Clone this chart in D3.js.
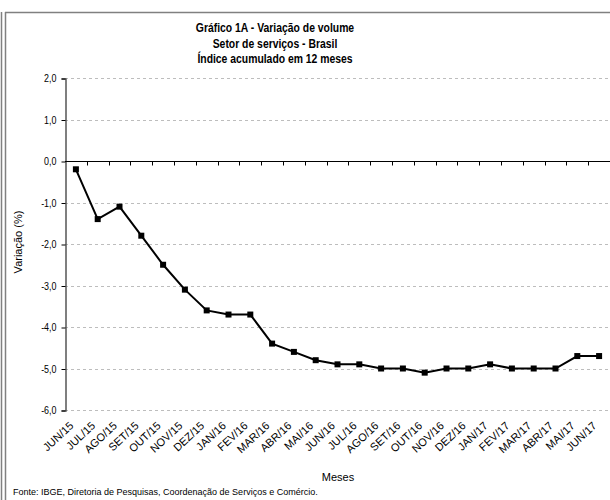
<!DOCTYPE html>
<html>
<head>
<meta charset="utf-8">
<script src="https://cdn.jsdelivr.net/npm/d3@7"></script>
<style>
  body { margin: 0; background: #fff; }
  text { font-family: "Liberation Sans", Arial, sans-serif; fill: #000; }
</style>
</head>
<body>
<div id="chart"></div>
<script>
const months = ["JUN/15","JUL/15","AGO/15","SET/15","OUT/15","NOV/15","DEZ/15","JAN/16","FEV/16",
    "MAR/16","ABR/16","MAI/16","JUN/16","JUL/16","AGO/16","SET/16","OUT/16","NOV/16","DEZ/16",
    "JAN/17","FEV/17","MAR/17","ABR/17","MAI/17","JUN/17"];
const values = [-0.2,-1.4,-1.1,-1.8,-2.5,-3.1,-3.6,-3.7,-3.7,-4.4,-4.6,-4.8,-4.9,-4.9,-5.0,-5.0,
    -5.1,-5.0,-5.0,-4.9,-5.0,-5.0,-5.0,-4.7,-4.7];
const yTicks = [2,1,0,-1,-2,-3,-4,-5,-6];
const titleLines = ["Gráfico 1A - Variação de volume", "Setor de serviços - Brasil", "Índice acumulado em 12 meses"];

// title font in the picture is a narrow one, so squeeze it
const squeeze = 0.77;

const svg = d3.select("#chart")
    .append("svg")
        .attr("width", 610)
        .attr("height", 500);

// frame
svg.append("line").attr("x1", 1.5).attr("x2", 1.5).attr("y1", 12).attr("y2", 500)
    .attr("stroke", "#808080").attr("stroke-width", 1.5);
svg.append("line").attr("x1", 5.5).attr("x2", 5.5).attr("y1", 12).attr("y2", 500)
    .attr("stroke", "#808080").attr("stroke-width", 1.5);
svg.append("line").attr("x1", 5).attr("x2", 610).attr("y1", 12.5).attr("y2", 12.5)
    .attr("stroke", "#808080").attr("stroke-width", 1.5);

const x = d3.scaleBand()
    .domain(months)
    .range([65, 610]);

const y = d3.scaleLinear()
    .domain([-6, 2])
    .range([410, 78]);

// title
svg.append("g").selectAll("text")
    .data(titleLines)
    .enter()
    .append("text")
        .attr("transform", (d, i) => `translate(275,${32 + i * 15.5}) scale(${squeeze},1)`)
        .attr("text-anchor", "middle")
        .attr("font-size", 13.5)
        .attr("font-weight", "bold")
        .text(d => d);

// grid
svg.append("g").selectAll("line")
    .data(yTicks.filter(d => d !== 0))
    .enter()
    .append("line")
        .attr("x1", 65).attr("x2", 610)
        .attr("y1", d => Math.round(y(d)) + 0.5)
        .attr("y2", d => Math.round(y(d)) + 0.5)
        .attr("stroke", "#bdbdbd")
        .attr("stroke-dasharray", "3,3");

// y axis
const yAxis = svg.append("g")
    .attr("transform", "translate(65.5,0.5)")
    .call(d3.axisLeft(y).tickValues(yTicks).tickSize(4).tickFormat(d => d3.format(".1f")(d).replace(".", ",").replace("−", "-")));
yAxis.select(".domain").attr("stroke", "#555").attr("stroke-width", 1.5);
yAxis.selectAll(".tick line").attr("stroke", "#000");
yAxis.selectAll(".tick text")
    .attr("font-family", null)
    .attr("font-size", 10.5)
    .attr("fill", "#000")
    .attr("x", -9 / 0.85)
    .attr("transform", "scale(0.85,1)");

// x axis at zero
const xAxis = svg.append("g")
    .attr("transform", `translate(0,${Math.round(y(0)) + 0.5})`);
xAxis.append("line")
    .attr("x1", 65).attr("x2", 610)
    .attr("stroke", "#000");
xAxis.selectAll(".tk")
    .data(months)
    .enter()
    .append("line")
        .attr("x1", d => Math.round(x(d) + x.bandwidth())  + 0.5)
        .attr("x2", d => Math.round(x(d) + x.bandwidth()) + 0.5)
        .attr("y1", 0).attr("y2", 4)
        .attr("stroke", "#000");

// month labels
svg.append("g").selectAll("text")
    .data(months)
    .enter()
    .append("text")
        .attr("transform", d => `translate(${x(d) + x.bandwidth() / 2 - 7},421) rotate(-43)`)
        .attr("text-anchor", "end")
        .attr("dy", "0.7em")
        .attr("font-size", 11)
        .text(d => d);

// line + markers
const line = d3.line()
    .x((d, i) => x(months[i]) + x.bandwidth() / 2)
    .y(d => y(d));

svg.append("path")
    .datum(values)
    .attr("fill", "none")
    .attr("stroke", "#000")
    .attr("stroke-width", 2)
    .attr("d", line);

svg.append("g").selectAll("rect")
    .data(values)
    .enter()
    .append("rect")
        .attr("x", (d, i) => x(months[i]) + x.bandwidth() / 2 - 3)
        .attr("y", d => y(d) - 3)
        .attr("width", 6)
        .attr("height", 6)
        .attr("fill", "#000");

// axis titles
svg.append("text")
    .attr("transform", "translate(22,242) rotate(-90)")
    .attr("text-anchor", "middle")
    .attr("font-size", 11)
    .text("Variação (%)");

svg.append("text")
    .attr("x", 338)
    .attr("y", 481)
    .attr("text-anchor", "middle")
    .attr("font-size", 11)
    .text("Meses");

svg.append("text")
    .attr("x", 13)
    .attr("y", 495)
    .attr("font-size", 9)
    .text("Fonte: IBGE, Diretoria de Pesquisas, Coordenação de Serviços e Comércio.");
</script>
</body>
</html>
